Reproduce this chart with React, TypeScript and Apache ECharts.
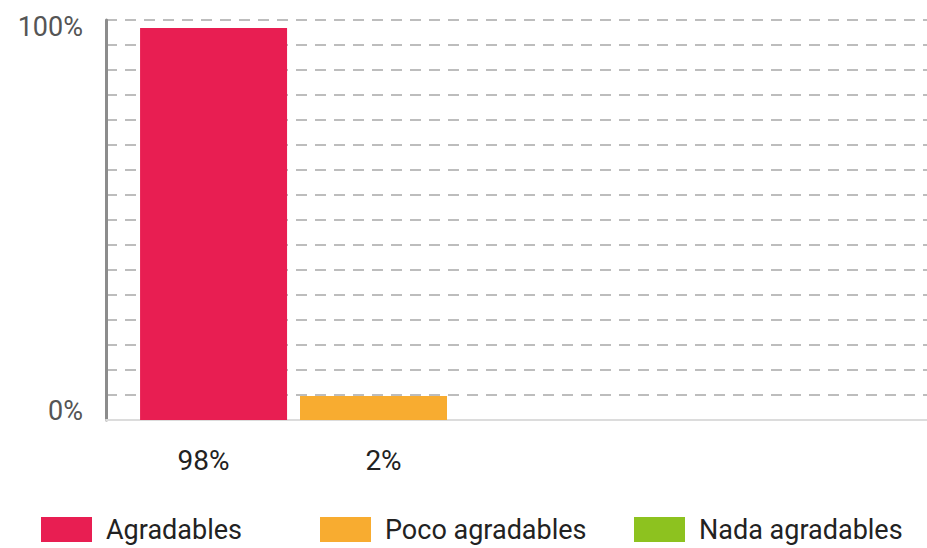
import React, { useEffect, useRef } from "react";
import * as echarts from "echarts";

const seriesNames = ["Agradables", "Poco agradables", "Nada agradables"];
const seriesValues = [98, 6, 0];
const barLabels = ["98%", "2%", ""];
const seriesColors = ["#E81E52", "#F8AC30", "#8DC21F"];
const yTickLabels: Record<number, string> = { 0: "0%", 100: "100%" };
const category = ["Opinión"];

const FONT = "Roboto";

export default function App() {
  const ref = useRef<HTMLDivElement>(null);
  useEffect(() => {
    document.body.style.margin = "0";
    const chart = echarts.init(ref.current!, undefined, { renderer: "svg" });
    const labelOffsets = [
      [-10, 0],
      [10, 0],
      [0, 0],
    ];
    const legendLefts = [41, 320, 634];
    chart.setOption({
      animation: false,
      backgroundColor: "#ffffff",
      grid: [
        { left: 106, right: 0, top: 20, bottom: 128 },
        { left: 106, width: 535, top: 20, bottom: 128 },
      ],
      xAxis: [
        {
          type: "category",
          gridIndex: 0,
          data: category,
          axisLine: { show: true, lineStyle: { color: "#dcdcdc", width: 2 } },
          axisTick: { show: false },
          axisLabel: { show: false },
        },
        {
          type: "category",
          gridIndex: 1,
          data: category,
          axisLine: { show: false },
          axisTick: { show: false },
          axisLabel: { show: false },
        },
      ],
      yAxis: [
        {
          type: "value",
          gridIndex: 0,
          min: 0,
          max: 100,
          interval: 6.25,
          axisLine: { show: true, lineStyle: { color: "#8c8c8c", width: 3 } },
          axisTick: { show: false },
          splitLine: {
            show: true,
            lineStyle: { color: "#a8a8a8", width: 1.5, type: [11, 8] },
          },
          axisLabel: {
            margin: 23,
            formatter: (v: number) => {
              const t = yTickLabels[v];
              if (t === undefined) return "";
              return v === 0 ? `{lo|${t}}` : `{hi|${t}}`;
            },
            rich: {
              lo: {
                fontFamily: FONT,
                fontSize: 27,
                color: "#555555",
                padding: [0, 0, 18, 0],
              },
              hi: {
                fontFamily: FONT,
                fontSize: 27,
                color: "#555555",
                padding: [14, 0, 0, 0],
              },
            },
          },
        },
        {
          type: "value",
          gridIndex: 1,
          min: 0,
          max: 100,
          show: false,
        },
      ],
      legend: seriesNames.map((n, i) => ({
        data: [n],
        left: legendLefts[i],
        top: 516,
        padding: 0,
        icon: "rect",
        itemWidth: 51,
        itemHeight: 25,
        textStyle: {
          fontFamily: FONT,
          fontSize: 27,
          color: "#222222",
          padding: [0, 0, 0, 9],
        },
        selectedMode: false,
      })),
      series: seriesNames.map((n, i) => ({
        name: n,
        type: "bar",
        xAxisIndex: 1,
        yAxisIndex: 1,
        data: [seriesValues[i]],
        barWidth: 147,
        barGap: "8.8%",
        itemStyle: { color: seriesColors[i] },
        label: {
          show: barLabels[i] !== "",
          position: "bottom",
          distance: 26,
          offset: labelOffsets[i],
          formatter: () => barLabels[i],
          fontFamily: FONT,
          fontSize: 28,
          color: "#222222",
        },
      })),
    });
    return () => chart.dispose();
  }, []);
  return <div ref={ref} style={{ width: 927, height: 548 }} />;
}
